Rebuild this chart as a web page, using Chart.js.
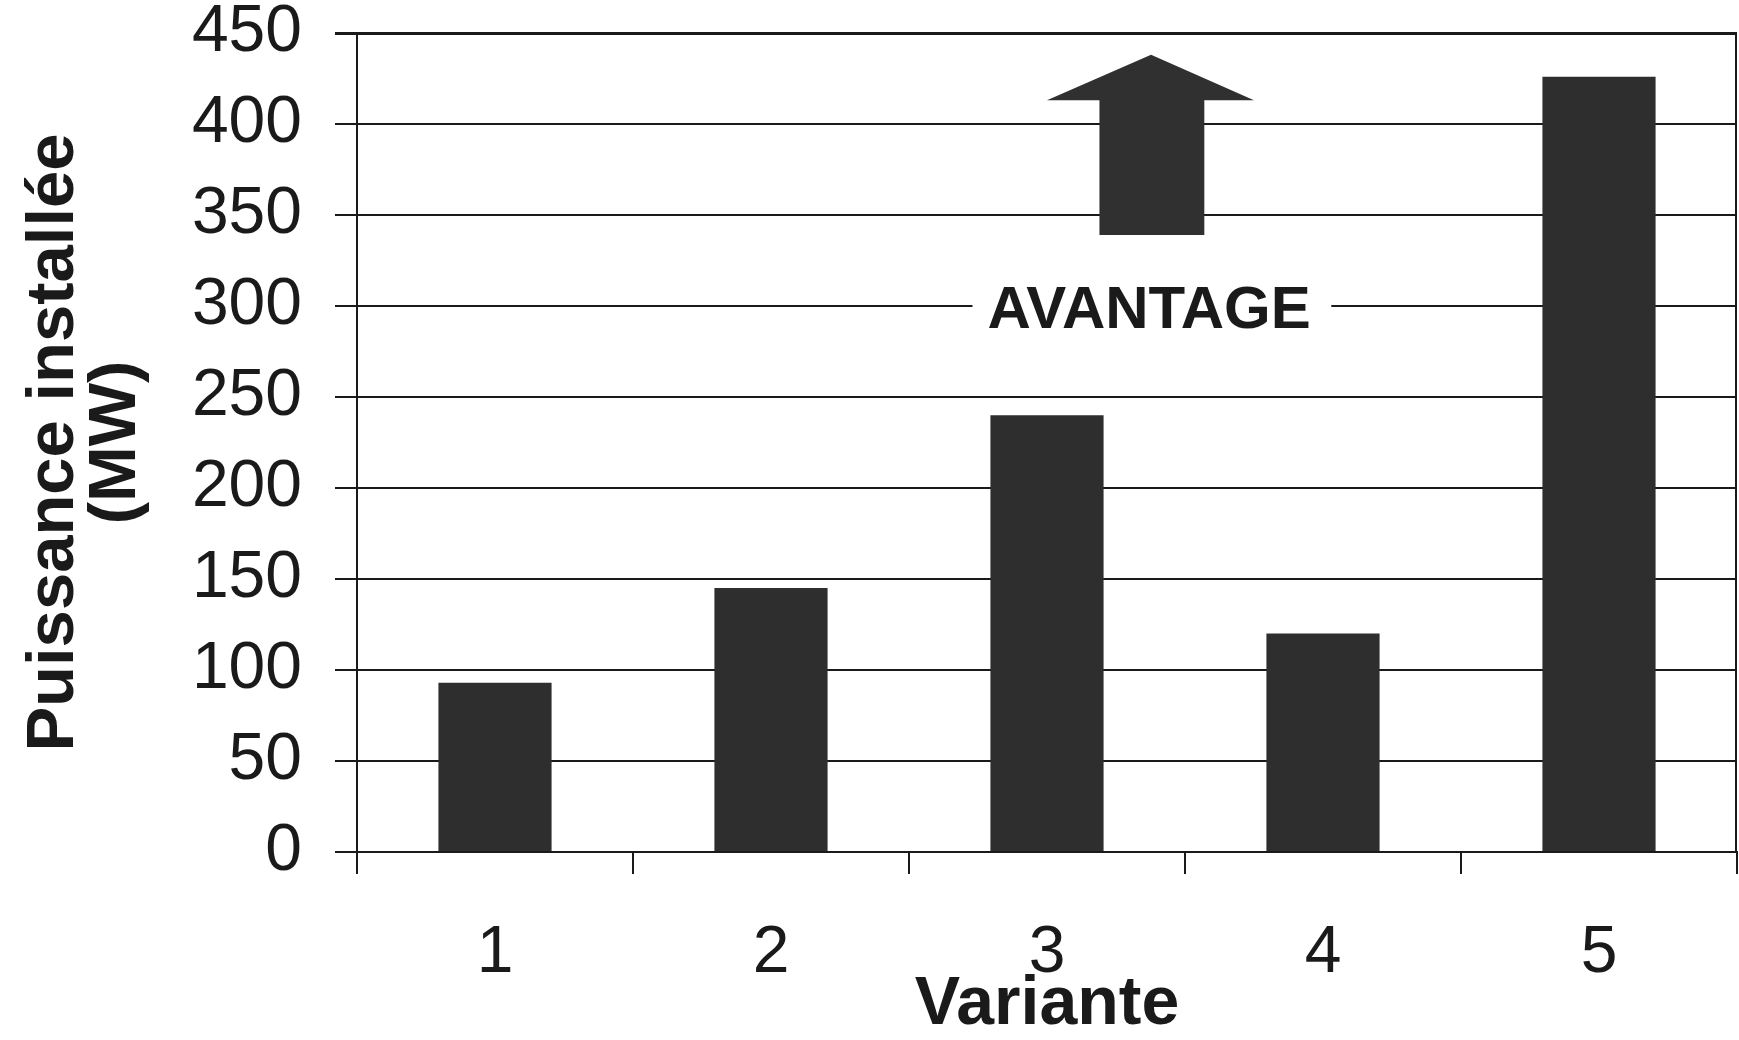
<!DOCTYPE html>
<html>
<head>
<meta charset="utf-8">
<script src="https://cdn.jsdelivr.net/npm/chart.js@4/dist/chart.umd.min.js"></script>
<style>
  html, body { margin: 0; padding: 0; background: #fff; }
  #wrap { width: 1739px; height: 1040px; }
</style>
</head>
<body>
<div id="wrap"><canvas id="puissanceChart"></canvas></div>
<script>
// data
const variantes = ["1", "2", "3", "4", "5"];
const puissanceMW = [93, 145, 240, 120, 426];
const yTicks = [0, 50, 100, 150, 200, 250, 300, 350, 400, 450];

const FONT = "'Liberation Sans', Arial, Helvetica, sans-serif";
const INK = "#1a1a1a";

// arrow + "AVANTAGE" label, placed in data units (x in category index, y in MW)
const avantagePlugin = {
  id: "avantage",
  afterDatasetsDraw(chart) {
    const { ctx, scales: { x, y }, chartArea } = chart;
    const x0 = x.getPixelForValue(0);
    const step = x.getPixelForValue(1) - x0;
    const px = (i) => x0 + i * step;

    ctx.save();
    // right frame line
    ctx.strokeStyle = INK;
    ctx.lineWidth = 2;
    ctx.beginPath();
    ctx.moveTo(chartArea.right - 1, chartArea.top);
    ctx.lineTo(chartArea.right - 1, chartArea.bottom);
    ctx.stroke();

    // arrow
    ctx.fillStyle = "#303030";
    ctx.beginPath();
    ctx.moveTo(px(2.377), y.getPixelForValue(438));
    ctx.lineTo(px(2.75), y.getPixelForValue(413));
    ctx.lineTo(px(2.57), y.getPixelForValue(413));
    ctx.lineTo(px(2.57), y.getPixelForValue(339));
    ctx.lineTo(px(2.19), y.getPixelForValue(339));
    ctx.lineTo(px(2.19), y.getPixelForValue(413));
    ctx.lineTo(px(2.0), y.getPixelForValue(413));
    ctx.closePath();
    ctx.fill();

    // label with white gap in the 300 gridline
    const ly = y.getPixelForValue(298);
    ctx.fillStyle = "#fff";
    ctx.fillRect(px(1.73), ly - 30, px(3.03) - px(1.73), 60);
    ctx.fillStyle = INK;
    ctx.font = "bold 60px " + FONT;
    ctx.textAlign = "center";
    ctx.textBaseline = "middle";
    ctx.fillText("AVANTAGE", px(2.37), ly + 2);
    ctx.restore();
  }
};

const ctx = document.getElementById("puissanceChart").getContext("2d");
new Chart(ctx, {
  type: "bar",
  data: {
    labels: variantes,
    datasets: [
      {
        label: "Puissance installée",
        data: puissanceMW,
        backgroundColor: "#2e2e2e",
        borderWidth: 0,
        barPercentage: 0.41,
        categoryPercentage: 1.0,
      },
    ],
  },
  options: {
    responsive: true,
    maintainAspectRatio: false,
    animation: false,
    devicePixelRatio: 1,
    layout: { padding: { top: 0, right: 2, left: 0, bottom: 0 } },
    plugins: {
      legend: { display: false },
      tooltip: { enabled: false },
    },
    scales: {
      x: {
        offset: true,
        afterFit: (scale) => { scale.height = 188; },
        grid: {
          offset: true,
          drawOnChartArea: false,
          drawTicks: true,
          tickLength: 22,
          color: INK,
          lineWidth: 2,
        },
        border: { display: true, color: INK, width: 2 },
        ticks: {
          color: INK,
          padding: 47,
          font: { family: FONT, size: 66, lineHeight: 1 },
        },
        title: {
          display: true,
          text: "Variante",
          color: INK,
          font: { family: FONT, size: 68, weight: "bold", lineHeight: 1 },
          padding: { top: 0, bottom: 1 },
        },
      },
      y: {
        min: 0,
        max: 450,
        afterFit: (scale) => {
          scale.width = 357;
          scale.paddingTop = 33;
        },
        afterBuildTicks: (scale) => { scale.ticks = yTicks.map((v) => ({ value: v })); },
        grid: {
          color: INK,
          lineWidth: (c) => (c.tick && c.tick.value === 450 ? 3 : 2),
          drawTicks: true,
          tickLength: 22,
        },
        border: { display: true, color: INK, width: 2 },
        ticks: {
          color: INK,
          padding: 33,
          font: { family: FONT, size: 66, lineHeight: 1 },
        },
        title: {
          display: true,
          text: ["Puissance installée", "(MW)"],
          color: INK,
          font: { family: FONT, size: 67, weight: "bold", lineHeight: 0.92 },
          padding: { top: 24, bottom: 0 },
        },
      },
    },
  },
  plugins: [avantagePlugin],
});
</script>
</body>
</html>
